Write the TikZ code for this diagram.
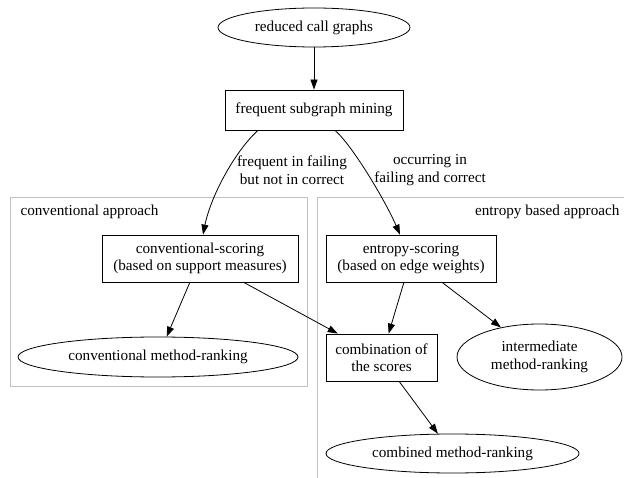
\documentclass[tikz,border=0pt]{standalone}
\usepackage{fontspec}
\setmainfont{Liberation Serif}
\usetikzlibrary{arrows.meta,calc,shapes.geometric}
\definecolor{clustergray}{RGB}{192,192,192}

\begin{document}
\begin{tikzpicture}[x=1pt,y=-1pt,
  every node/.style={font=\fontsize{15.2}{17.5}\selectfont},
  box/.style={draw,line width=0.8pt,align=center,inner sep=0pt},
  oval/.style={draw,ellipse,line width=0.8pt,align=center,inner sep=0pt},
  edge/.style={line width=0.8pt,-{Triangle[length=10pt,width=7pt]}},
  cluster/.style={draw=clustergray,line width=0.8pt}]
  \useasboundingbox (0,0) rectangle (624,478);
  \clip (0,0) rectangle (624,478);
  % clusters
  \draw[cluster] (10,197) rectangle (307,386);
  \draw[cluster] (317,197) rectangle (640,500);
  \node[anchor=west] (convlbl) at (17,212) {conventional approach};
  \node[anchor=east] (entlbl) at (623,212) {entropy based approach};
  % nodes
  \node[oval,minimum width=192,minimum height=39] (rcg) at (314,27.5) {reduced call graphs};
  \node[box,minimum width=178,minimum height=40] (freq) at (314,110) {frequent subgraph mining};
  \node[box,minimum width=196,minimum height=47] (cscore) at (200,258.5) {conventional-scoring\\(based on support measures)};
  \node[box,minimum width=170,minimum height=47] (escore) at (411,258.5) {entropy-scoring\\(based on edge weights)};
  \node[box,minimum width=111,minimum height=47] (comb) at (381.5,357.5) {combination of\\the scores};
  \node[oval,minimum width=280,minimum height=40] (cmrank) at (158,357) {conventional method-ranking};
  \node[oval,minimum width=165,minimum height=66] (imrank) at (539.5,357) {intermediate\\method-ranking};
  \node[oval,minimum width=253,minimum height=39] (cbrank) at (452.5,453.5) {combined method-ranking};
  % edges
  \draw[edge] (rcg) -- (freq);
  \draw[edge] ($(freq.south)+(-56,0)$) .. controls (236,150) and (211,195) .. ($(cscore.north)+(3,0)$);
  \draw[edge] ($(freq.south)+(21,0)$) .. controls (352,145) and (385,200) .. ($(escore.north)+(-11,0)$);
  \node[align=center] (lblfail) at (292,170) {frequent in failing\\but not in correct};
  \node[align=center] (lbloccur) at (430,170) {occurring in\\failing and correct};
  \draw[edge] (cscore) -- (cmrank);
  \draw[edge] (cscore) -- (comb);
  \draw[edge] (escore) -- (comb);
  \draw[edge] (escore) -- (imrank);
  \draw[edge] (comb) -- (cbrank);
\end{tikzpicture}
\end{document}
